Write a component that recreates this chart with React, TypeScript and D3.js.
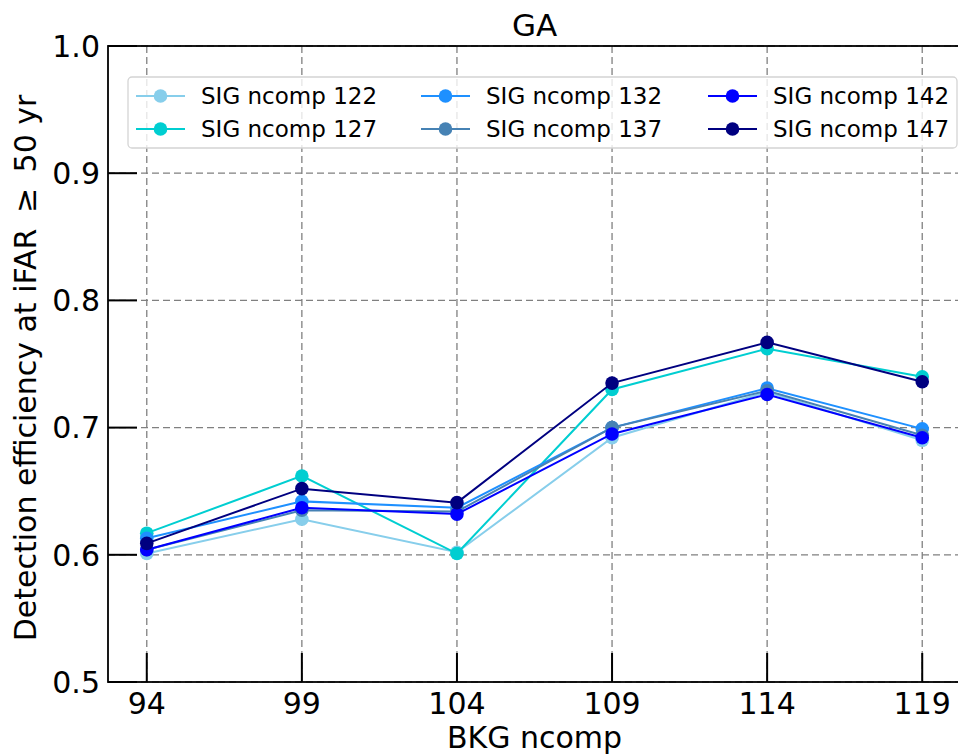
import React from "react";
import * as d3 from "d3";

const bkgNcomp = [94, 99, 104, 109, 114, 119];
const yTicks = [0.5, 0.6, 0.7, 0.8, 0.9, 1.0];

const seriesNames = [
  "SIG ncomp 122",
  "SIG ncomp 127",
  "SIG ncomp 132",
  "SIG ncomp 137",
  "SIG ncomp 142",
  "SIG ncomp 147",
];
const seriesColors = ["#87CEEB", "#00CED1", "#1E90FF", "#4682B4", "#0000FF", "#000080"];

const sig122 = [0.601, 0.628, 0.602, 0.692, 0.728, 0.690];
const sig127 = [0.617, 0.662, 0.601, 0.730, 0.762, 0.740];
const sig132 = [0.613, 0.642, 0.637, 0.700, 0.731, 0.699];
const sig137 = [0.604, 0.635, 0.634, 0.700, 0.729, 0.694];
const sig142 = [0.604, 0.637, 0.632, 0.695, 0.726, 0.692];
const sig147 = [0.609, 0.652, 0.641, 0.735, 0.767, 0.736];
const seriesValues = [sig122, sig127, sig132, sig137, sig142, sig147];

const W = 958;
const H = 756;
const plot = { left: 108, right: 961, top: 46, bottom: 682 };
const FONT = "'DejaVu Sans', sans-serif";

export default function App() {
  const x = d3
    .scaleLinear()
    .domain([92.75, 120.25])
    .range([plot.left, plot.right]);
  const y = d3.scaleLinear().domain([0.5, 1.0]).range([plot.bottom, plot.top]);

  const line = d3
    .line<[number, number]>()
    .x((d) => x(d[0]))
    .y((d) => y(d[1]));

  const tickLen = 29;

  // legend layout: 3 columns x 2 rows, filled column by column
  const legend = { x: 128, y: 77, w: 829, h: 71 };
  const colX = [136, 421, 708];
  const rowY = [96, 129];
  const handleLen = 49;

  return (
    <svg
      width={W}
      height={H}
      style={{ position: "absolute", left: 0, top: 0, background: "#fff" }}
      fontFamily={FONT}
    >
      <rect x={0} y={0} width={W} height={H} fill="#fff" />
      <defs>
        <clipPath id="plotClip">
          <rect x={plot.left} y={plot.top} width={plot.right - plot.left} height={plot.bottom - plot.top} />
        </clipPath>
      </defs>

      {/* grid */}
      <g stroke="#808080" strokeWidth={1.3} strokeDasharray="7,4" fill="none">
        {bkgNcomp.map((v) => (
          <line key={`gx${v}`} x1={x(v)} x2={x(v)} y1={plot.top} y2={plot.bottom} />
        ))}
        {yTicks.map((v) => (
          <line key={`gy${v}`} x1={plot.left} x2={plot.right} y1={y(v)} y2={y(v)} />
        ))}
      </g>

      {/* series */}
      <g clipPath="url(#plotClip)">
        {seriesValues.map((vals, i) => {
          const pts = bkgNcomp.map((b, j) => [b, vals[j]] as [number, number]);
          return (
            <g key={seriesNames[i]}>
              <path d={line(pts) ?? ""} fill="none" stroke={seriesColors[i]} strokeWidth={2} />
              {pts.map((p, j) => (
                <circle key={j} cx={x(p[0])} cy={y(p[1])} r={6.8} fill={seriesColors[i]} />
              ))}
            </g>
          );
        })}
      </g>

      {/* ticks (inward) */}
      <g stroke="#000" strokeWidth={2}>
        {bkgNcomp.map((v) => (
          <line key={`tx${v}`} x1={x(v)} x2={x(v)} y1={plot.bottom} y2={plot.bottom - tickLen} />
        ))}
        {yTicks.map((v) => (
          <line key={`ty${v}`} x1={plot.left} x2={plot.left + tickLen} y1={y(v)} y2={y(v)} />
        ))}
      </g>

      {/* spines */}
      <rect
        x={plot.left}
        y={plot.top}
        width={plot.right - plot.left}
        height={plot.bottom - plot.top}
        fill="none"
        stroke="#000"
        strokeWidth={1.8}
      />

      {/* tick labels */}
      <g fontSize={30} fill="#000">
        {bkgNcomp.map((v) => (
          <text key={`lx${v}`} x={x(v)} y={714} textAnchor="middle">
            {d3.format("d")(v)}
          </text>
        ))}
        {yTicks.map((v) => (
          <text key={`ly${v}`} x={100} y={y(v)} dy="0.36em" textAnchor="end">
            {d3.format(".1f")(v)}
          </text>
        ))}
      </g>

      {/* titles */}
      <text x={(plot.left + plot.right) / 2} y={36} fontSize={31} textAnchor="middle">
        GA
      </text>
      <text x={(plot.left + plot.right) / 2} y={748} fontSize={30} textAnchor="middle">
        BKG ncomp
      </text>
      <text
        transform={`translate(36, ${(plot.top + plot.bottom) / 2 + 4}) rotate(-90)`}
        fontSize={30}
        textAnchor="middle"
      >
        {"Detection efficiency at iFAR \u2009\u2265\u2009 50 yr"}
      </text>

      {/* legend */}
      <rect
        x={legend.x}
        y={legend.y}
        width={legend.w}
        height={legend.h}
        rx={4}
        fill="#fff"
        fillOpacity={0.8}
        stroke="#d4d4d4"
        strokeWidth={1.3}
      />
      {seriesNames.map((name, i) => {
        const cx = colX[Math.floor(i / 2)];
        const cy = rowY[i % 2];
        return (
          <g key={`lg${name}`}>
            <line x1={cx} x2={cx + handleLen} y1={cy} y2={cy} stroke={seriesColors[i]} strokeWidth={2} />
            <circle cx={cx + handleLen / 2} cy={cy} r={6.8} fill={seriesColors[i]} />
            <text x={cx + handleLen + 16} y={cy} dy="0.36em" fontSize={23}>
              {name}
            </text>
          </g>
        );
      })}
    </svg>
  );
}
